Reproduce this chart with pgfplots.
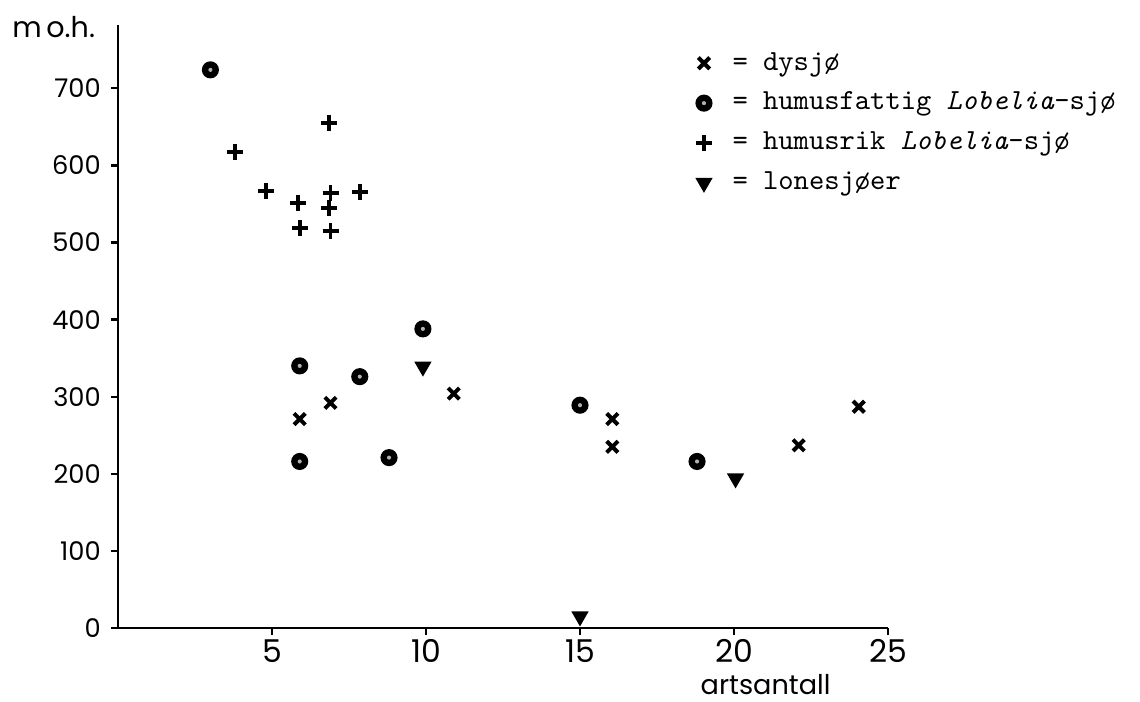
\documentclass[border=0pt]{standalone}
\usepackage{fontspec}
\usepackage{pgfplots}
\pgfplotsset{compat=1.18}
\newfontfamily\geo{Poppins}

% black disc with a light speck in the middle
\pgfdeclareplotmark{ringdot}{%
  \pgfpathcircle{\pgfqpoint{0pt}{0pt}}{\pgfplotmarksize}%
  \pgfsetfillcolor{black}\pgfusepathqfill
  \pgfpathcircle{\pgfqpoint{0pt}{0pt}}{0.24\pgfplotmarksize}%
  \pgfsetfillcolor{black!30}\pgfusepathqfill}

\begin{document}
\begin{tikzpicture}
\useasboundingbox (-41.3pt,-25.9pt) rectangle (357.7pt,219.8pt);
\begin{axis}[
    scale only axis,
    width=269.5pt, height=211pt,
    xmin=0, xmax=25, ymin=0, ymax=782,
    axis x line*=bottom, axis y line*=left,
    axis line style={line width=0.9pt},
    xtick={5,10,15,20,25},
    ytick={0,100,...,700},
    tick align=outside,
    major tick length=2.5pt,
    tick style={line width=0.8pt, black},
    /pgf/number format/assume math mode=true,
    xticklabel style={font=\geo\fontsize{11}{12}\selectfont, yshift=2pt},
    yticklabel style={font=\geo\fontsize{9}{10}\selectfont},
    clip=false,
    legend style={draw=none, fill=none, at={(rel axis cs:0.738,0.975)}, anchor=north west,
        font=\ttfamily\fontsize{10.2}{12}\selectfont, row sep=2.2pt},
    legend cell align=left,
    legend image code/.code={%
        \draw[#1] plot coordinates {(0pt,0pt)};
        \path[draw=none, fill=none] (-3pt,0pt) -- (8pt,0pt);},
]
% dysjø
\addplot[only marks, mark=x, mark size=2.8pt, line width=1.4pt] coordinates {
  (5.9,271) (6.9,292) (10.9,304) (16.05,271) (16.05,235) (22.1,237) (24.05,287)};
% humusfattig Lobelia-sjø
\addplot[only marks, mark=ringdot, mark size=3pt] coordinates {
  (3.0,724) (5.9,340) (7.85,326) (5.9,216) (8.8,221) (9.9,388) (15.0,289) (18.8,216)};
% humusrik Lobelia-sjø
\addplot[only marks, mark=+, mark size=2.8pt, line width=1.35pt] coordinates {
  (3.8,617) (4.8,567) (5.85,551) (6.85,655) (6.9,564) (6.85,545) (7.85,566) (5.9,519) (6.9,515)};
% lonesjøer
\addplot[only marks, mark=triangle*, mark size=3.1pt, mark options={rotate=180}, fill=black] coordinates {
  (9.9,339) (20.05,194) (15.0,15)};
\legend{= dysjø, = humusfattig \textit{Lobelia}-sjø, = humusrik \textit{Lobelia}-sjø, = lonesjøer}

\node[anchor=base east, font=\geo\fontsize{10}{11}\selectfont] at ([yshift=-4.5pt, xshift=-4.5pt]rel axis cs:0,1) {m\,o.h.};
\node[anchor=north, inner sep=0pt, font=\geo\fontsize{9.5}{11}\selectfont] at ([yshift=-16pt]rel axis cs:0.841,0) {artsantall};
\end{axis}
\end{tikzpicture}
\end{document}
